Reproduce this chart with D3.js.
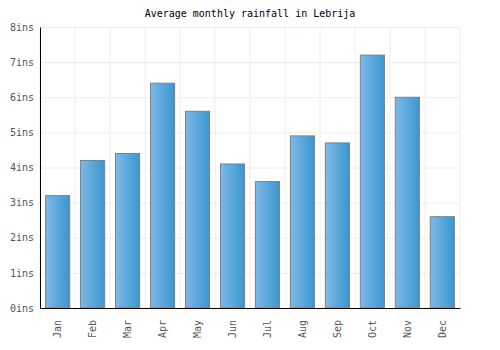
<!DOCTYPE html>
<html>
<head>
<meta charset="utf-8">
<script src="https://cdn.jsdelivr.net/npm/d3@7"></script>
<style>
  body { margin: 0; background: #fff; }
  svg text { font-family: "DejaVu Sans Mono", monospace; font-size: 10px; }
  .grid line { stroke: #eeeeee; }
  .grid path { display: none; }
</style>
</head>
<body>
<div id="chart"></div>
<script>
// data
const months = ["Jan", "Feb", "Mar", "Apr", "May", "Jun", "Jul", "Aug", "Sep", "Oct", "Nov", "Dec"];
const rainfall = [3.2, 4.2, 4.4, 6.4, 5.6, 4.1, 3.6, 4.9, 4.7, 7.2, 6.0, 2.6];
const yTicks = [0, 1, 2, 3, 4, 5, 6, 7, 8];

const margin = {top: 27, right: 40, bottom: 42, left: 40},
      width = 500 - margin.left - margin.right,
      height = 350 - margin.top - margin.bottom;

const svgRoot = d3.select("#chart")
    .append("svg")
        .attr("width", 500)
        .attr("height", 350);

const defs = svgRoot.append("defs");
const grad = defs.append("linearGradient")
    .attr("id", "barGrad")
    .attr("x1", "0%").attr("x2", "100%")
    .attr("y1", "0%").attr("y2", "0%");
grad.append("stop").attr("offset", "0%").attr("stop-color", "#7db9e8");
grad.append("stop").attr("offset", "100%").attr("stop-color", "#3a97cf");

svgRoot.append("text")
    .attr("x", 250)
    .attr("y", 17)
    .attr("text-anchor", "middle")
    .attr("fill", "#000")
    .text("Average monthly rainfall in Lebrija");

const svg = svgRoot.append("g")
    .attr("transform", `translate(${margin.left},${margin.top})`);

// scales
const x = d3.scaleBand()
    .domain(months)
    .range([0, width])
    .paddingInner(0.31)
    .paddingOuter(0.16);

const y = d3.scaleLinear()
    .domain([0, 8])
    .range([height, 0]);

// gridlines on band edges and inch ticks
const edges = months.map((m, i) => i * width / months.length).concat([width]);
svg.append("g")
    .attr("class", "grid")
    .selectAll("line")
    .data(edges)
    .enter().append("line")
        .attr("x1", d => d).attr("x2", d => d)
        .attr("y1", 0).attr("y2", height)
        .attr("stroke", "#eeeeee");

svg.append("g")
    .attr("class", "grid")
    .call(d3.axisLeft(y).tickValues(yTicks).tickSize(-width).tickFormat(""));

// bars
svg.selectAll(".bar")
    .data(months)
    .enter()
    .append("rect")
        .attr("class", "bar")
        .attr("x", d => x(d))
        .attr("width", x.bandwidth())
        .attr("y", (d, i) => y(rainfall[i]))
        .attr("height", (d, i) => height - y(rainfall[i]))
        .attr("fill", "url(#barGrad)")
        .attr("stroke", "#808080")
        .attr("stroke-width", 1);

// y axis
const yAxis = svg.append("g")
    .call(d3.axisLeft(y).tickValues(yTicks).tickSize(0).tickPadding(6).tickFormat(d => d + "ins"));
yAxis.select(".domain").attr("stroke", "#000");
yAxis.selectAll("text").attr("fill", "#555");

// x axis
const xAxis = svg.append("g")
    .attr("transform", `translate(0,${height})`)
    .call(d3.axisBottom(x).tickSize(0).tickPadding(6));
xAxis.select(".domain").attr("stroke", "#000");
xAxis.selectAll("text")
    .attr("fill", "#555")
    .attr("transform", "rotate(-90)")
    .attr("text-anchor", "end")
    .attr("dx", "-0.6em")
    .attr("dy", "0.35em")
    .attr("y", 0)
    .attr("x", -6);
</script>
</body>
</html>
